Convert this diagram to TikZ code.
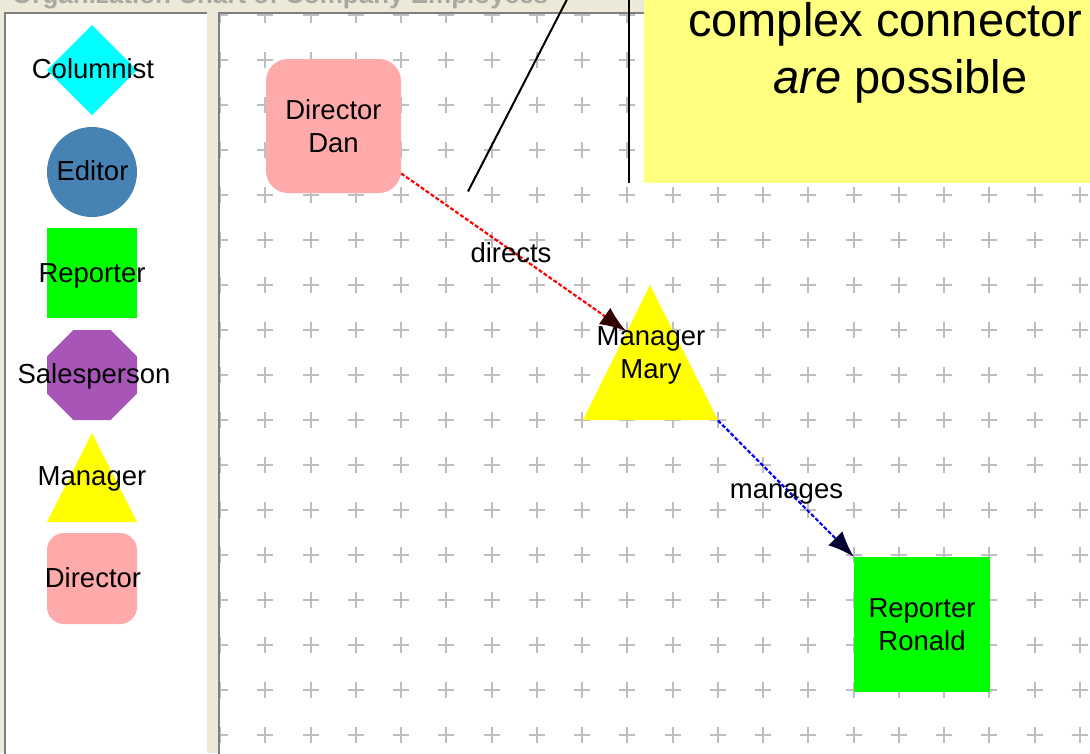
\documentclass[tikz,border=0pt]{standalone}
\usepackage{fontspec}
\setmainfont{Liberation Sans}
\usetikzlibrary{arrows.meta}
\definecolor{beige}{HTML}{ECE9D8}
\definecolor{gridc}{HTML}{BEBEBE}
\definecolor{pinkfill}{HTML}{FFAAAA}
\definecolor{steel}{HTML}{4682B4}
\definecolor{greenfill}{HTML}{00FF00}
\definecolor{purplefill}{HTML}{A855B8}
\definecolor{yellowfill}{HTML}{FFFF00}
\definecolor{cyanfill}{HTML}{00FFFF}
\definecolor{calloutfill}{HTML}{FFFF80}
\definecolor{framedark}{HTML}{7F7F7F}
\definecolor{titlegray}{HTML}{A8A8A0}
\begin{document}
\begin{tikzpicture}[x=1pt,y=-1pt,
  lbl/.style={font=\fontsize{27.5}{33}\selectfont, inner sep=0pt, align=center, text=black},
  legtext/.style={lbl, anchor=base},
  calltext/.style={font=\fontsize{47}{57}\selectfont, inner sep=0pt, text=black},
  gridplus/.style={draw=gridc, line width=2pt},
  frameline/.style={draw=framedark, line width=2pt},
  dirbox/.style={fill=pinkfill, rounded corners=22pt, minimum width=135pt, minimum height=134pt, inner sep=0pt},
  repbox/.style={fill=greenfill, minimum width=136pt, minimum height=135pt, inner sep=0pt},
  dirline/.style={draw=red, line width=2.2pt, dash pattern=on 4pt off 2pt, -{Latex[length=26pt,width=20pt,color=black!80!red]}},
  mgrline/.style={draw=blue, line width=2.2pt, dash pattern=on 4pt off 2pt, -{Latex[length=26pt,width=20pt,color=black!80!blue]}},
  pointer/.style={draw=black, line width=2pt}]
\useasboundingbox (0,0) rectangle (1090,753);
% background
\fill[beige] (0,0) rectangle (1090,753);
% window title (cut off at top)
\node[anchor=base west, inner sep=0pt, font=\fontsize{26}{30}\selectfont\bfseries, text=titlegray] (title) at (12,3) {Organization Chart of Company Employees};
% left palette panel
\fill[white] (4,12) rectangle (207,760);
\draw[frameline] (4.5,760) -- (4.5,12.5) -- (207,12.5);
% canvas
\fill[white] (219,13) rectangle (1095,760);
\begin{scope}
\clip (219,13) rectangle (1095,760);
\foreach \i in {0,...,19} {
  \foreach \j in {0,...,16} {
    \draw[gridplus] ({220+45.26*\i-8},{15+45*\j}) -- ++(16,0)
                    ({220+45.26*\i},{15+45*\j-8}) -- ++(0,16);
  }
}
\end{scope}
\draw[frameline] (219,760) -- (219,13) -- (1095,13);

% ---------- legend ----------
\fill[cyanfill] (92,25) -- (137,70) -- (92,115) -- (47,70) -- cycle;
\node[legtext] (lcol) at (93,78) {Columnist};
\fill[steel] (92,172) circle[radius=45];
\node[legtext] (ledi) at (92.5,180) {Editor};
\fill[greenfill] (47,228) rectangle (137,318);
\node[legtext] (lrep) at (92,282) {Reporter};
\fill[purplefill] (73.4,330) -- (110.6,330) -- (137,356.4) -- (137,393.6) -- (110.6,420) -- (73.4,420) -- (47,393.6) -- (47,356.4) -- cycle;
\node[legtext] (lsal) at (94,383) {Salesperson};
\fill[yellowfill] (92,433) -- (137,522) -- (47,522) -- cycle;
\node[legtext] (lman) at (92,485) {Manager};
\fill[pinkfill, rounded corners=17pt] (47,533) rectangle (137,624);
\node[legtext] (ldir) at (93,587) {Director};

% ---------- diagram ----------
\node[dirbox, lbl] (dan) at (333.5,126) {Director\\Dan};
\fill[yellowfill] (583,420) -- (650,285) -- (718,420) -- cycle;
\node[lbl] (mary) at (651,355.5) {Manager\\Mary};
\node[repbox, lbl] (ronald) at (922,624.5) {Reporter\\Ronald};
\coordinate (maryin) at (626,331);
\coordinate (maryout) at (718,420.5);
\draw[dirline] (dan) -- (maryin);
\draw[mgrline] (maryout) -- (ronald.north west);
\node[legtext] (ldirects) at (511,262) {directs};
\node[legtext] (lmanages) at (786.5,498) {manages};

% ---------- callout ----------
\node[fill=calloutfill, minimum width=470pt, minimum height=200pt, inner sep=0pt, anchor=south west] (note) at (644,183) {};
\node[calltext, anchor=base west] (note1) at (688,36) {complex connector};
\node[calltext, anchor=base] (note2) at (900.5,93) {\textit{are} possible};
\coordinate (p1a) at (468,191.5);
\coordinate (p1b) at (577,-20);
\coordinate (p2a) at (628.5,183);
\coordinate (p2b) at (628.5,-20);
\draw[pointer] (p1a) -- (p1b);
\draw[pointer] (p2a) -- (p2b);
\end{tikzpicture}
\end{document}
